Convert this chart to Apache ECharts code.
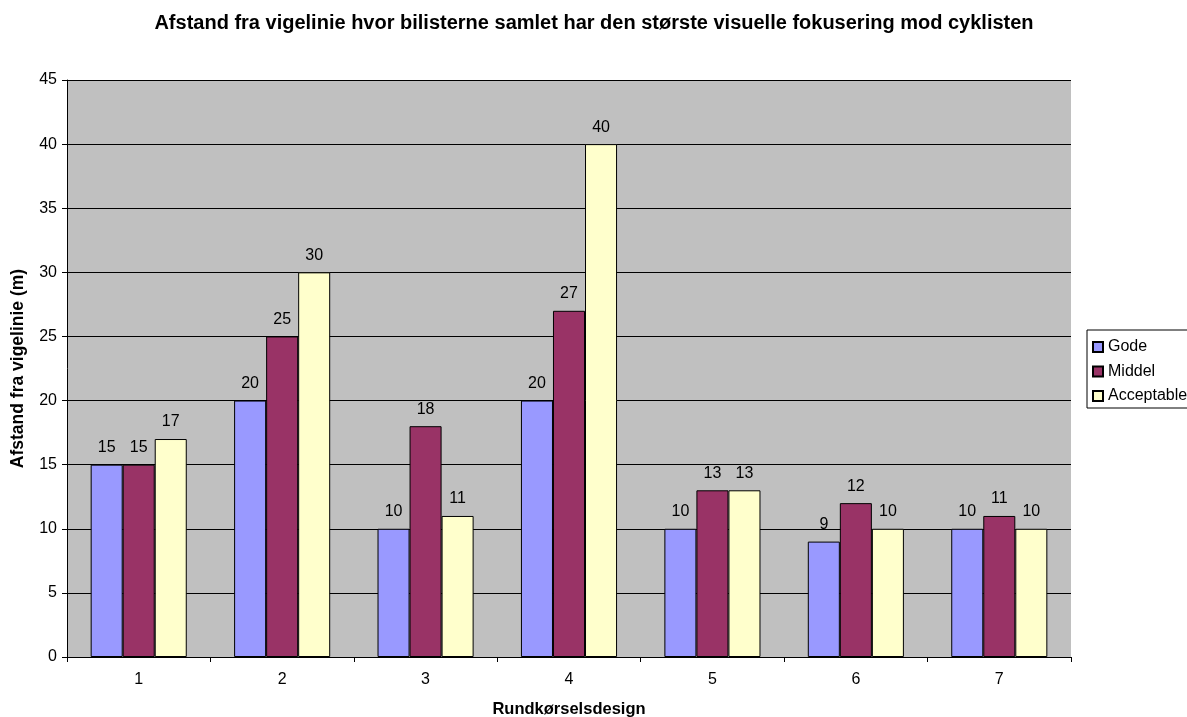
<!DOCTYPE html>
<html>
<head>
<meta charset="utf-8">
<script src="https://cdn.jsdelivr.net/npm/echarts@6/dist/echarts.min.js"></script>
<style>html,body{margin:0;padding:0;background:#fff;}#c{width:1187px;height:717px;}</style>
</head>
<body>
<div id="c"></div>
<script>
const categories = ['1','2','3','4','5','6','7'];
const gode = [15, 20, 10, 20, 10, 9, 10];
const middel = [15, 25, 18, 27, 13, 12, 11];
const acceptable = [17, 30, 11, 40, 13, 10, 10];
const yTicks = [0,5,10,15,20,25,30,35,40,45];

const chart = echarts.init(document.getElementById('c'));
const font = 'Liberation Sans, Arial, sans-serif';
function s(name, data, color) {
  return {
    name, type: 'bar', data, barGap: '0%', barCategoryGap: '33%',
    itemStyle: { color, borderColor: '#000', borderWidth: 1 },
    label: { show: true, position: 'top', color: '#000', fontFamily: font, fontSize: 16, distance: 9 }
  };
}
chart.setOption({
  animation: false,
  backgroundColor: '#fff',
  title: {
    text: 'Afstand fra vigelinie hvor bilisterne samlet har den største visuelle fokusering mod cyklisten',
    left: 589, top: 8, textAlign: 'center',
    textStyle: { fontFamily: font, fontSize: 20, fontWeight: 'bold', color: '#000' }
  },
  legend: {
    orient: 'vertical', left: 1087, top: 330,
    itemWidth: 10, itemHeight: 10, itemGap: 8.5,
    icon: 'rect',
    borderColor: '#000', borderWidth: 1, padding: [9, 8, 4, 5],
    textStyle: { fontFamily: font, fontSize: 16, color: '#000' },
    data: ['Gode','Middel','Acceptable']
  },
  grid: { left: 67, right: 116, top: 80, bottom: 60, show: true, backgroundColor: '#C0C0C0', borderWidth: 0, outerBoundsMode: 'none', containLabel: false },
  xAxis: {
    type: 'category', data: categories,
    name: 'Rundkørselsdesign', nameLocation: 'middle', nameGap: 44,
    nameTextStyle: { fontFamily: font, fontSize: 16.5, fontWeight: 'bold', color: '#000' },
    axisLine: { lineStyle: { color: '#000' } },
    axisTick: { show: true, length: 5, lineStyle: { color: '#000' } },
    axisLabel: { fontFamily: font, fontSize: 16, color: '#000', margin: 15 }
  },
  yAxis: {
    type: 'value', min: 0, max: 45, interval: 5,
    name: 'Afstand fra vigelinie (m)', nameLocation: 'middle', nameGap: 40,
    nameTextStyle: { fontFamily: font, fontSize: 17.5, fontWeight: 'bold', color: '#000' },
    axisLine: { show: true, lineStyle: { color: '#000' } },
    axisTick: { show: true, length: 5, inside: false, lineStyle: { color: '#000' } },
    axisLabel: { fontFamily: font, fontSize: 16, color: '#000', margin: 10,
      formatter: v => yTicks.includes(v) ? String(v) : '' },
    splitLine: { show: true, lineStyle: { color: '#000', width: 1 } }
  },
  series: [ s('Gode', gode, '#9999FF'), s('Middel', middel, '#993366'), s('Acceptable', acceptable, '#FFFFCC') ]
});
</script>
</body>
</html>
